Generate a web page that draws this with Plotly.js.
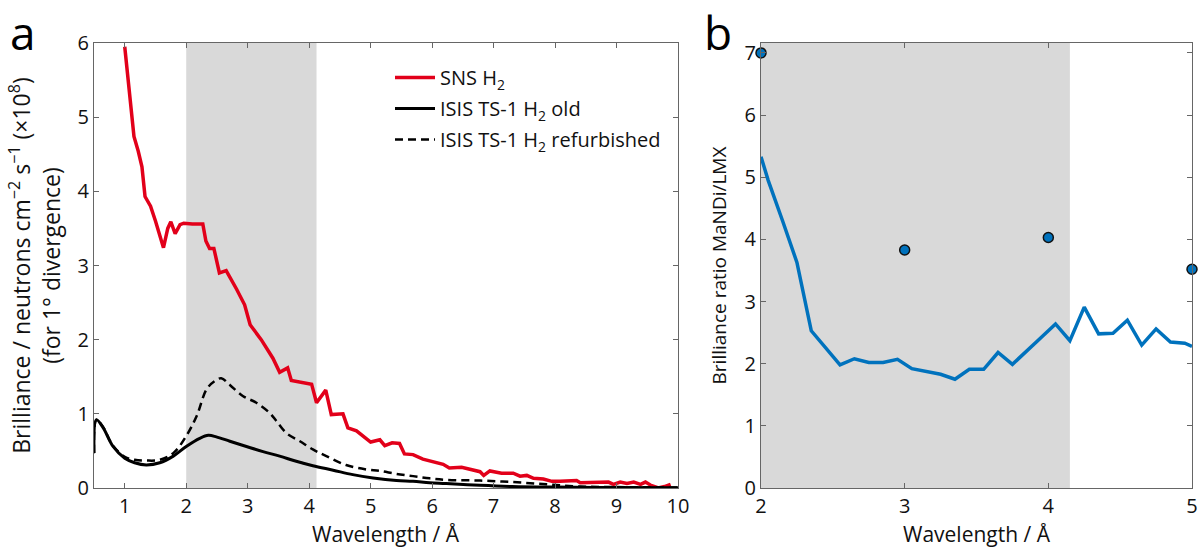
<!DOCTYPE html>
<html>
<head>
<meta charset="utf-8">
<script src="https://cdn.plot.ly/plotly-3.0.1.min.js"></script>
<style>html,body{margin:0;padding:0;background:#fff}#chart{width:1200px;height:548px}</style>
</head>
<body>
<div id="chart"></div>
<script>
// Panel a: SNS H2 brilliance
const snsX = [1.0,1.15,1.22,1.28,1.33,1.42,1.5,1.63,1.7,1.75,1.82,1.9,1.96,2.1,2.27,2.32,2.38,2.45,2.54,2.65,2.82,2.95,3.04,3.22,3.41,3.52,3.65,3.71,4.04,4.12,4.27,4.36,4.55,4.63,4.77,5.0,5.15,5.23,5.35,5.47,5.55,5.69,5.85,6.18,6.28,6.48,6.78,6.84,6.94,7.13,7.32,7.43,7.54,7.65,7.81,7.95,8.08,8.35,8.41,8.68,8.87,8.95,9.06,9.17,9.28,9.39,9.47,9.55,9.68,9.78,9.88];
const snsY = [5.95,4.74,4.54,4.33,3.93,3.8,3.6,3.24,3.5,3.59,3.43,3.55,3.57,3.56,3.56,3.33,3.23,3.23,2.9,2.93,2.68,2.47,2.2,2.0,1.75,1.56,1.62,1.45,1.4,1.15,1.32,0.99,1.0,0.81,0.77,0.62,0.65,0.57,0.61,0.6,0.46,0.45,0.39,0.32,0.27,0.28,0.22,0.17,0.23,0.2,0.2,0.16,0.17,0.13,0.12,0.09,0.09,0.1,0.07,0.08,0.08,0.05,0.08,0.06,0.08,0.05,0.08,0.04,0.0,0.02,0.05];

// Panel a: ISIS TS-1 H2 old
const isisOldX = [0.5,0.54,0.65,0.81,1.0,1.16,1.35,1.57,1.79,2.0,2.22,2.36,2.49,2.71,2.98,3.25,3.52,3.79,4.06,4.39,4.71,5.04,5.42,5.69,5.96,6.23,6.78,7.3,8.0,9.0,10.0];
const isisOldY = [0.47,0.92,0.81,0.56,0.4,0.34,0.31,0.34,0.43,0.56,0.67,0.71,0.69,0.63,0.56,0.49,0.43,0.36,0.3,0.24,0.18,0.135,0.1,0.09,0.07,0.06,0.036,0.02,0.012,0.007,0.004];

// Panel a: ISIS TS-1 H2 refurbished
const isisNewX = [0.5,0.54,0.65,0.8,1.0,1.16,1.35,1.57,1.79,2.0,2.17,2.33,2.46,2.57,2.71,2.92,3.14,3.36,3.47,3.63,3.85,4.06,4.28,4.6,4.93,5.15,5.42,5.69,5.96,6.23,6.78,7.32,7.86,8.41,9.0,10.0];
const isisNewY = [0.47,0.92,0.82,0.58,0.42,0.38,0.37,0.38,0.47,0.7,0.97,1.33,1.44,1.48,1.39,1.24,1.15,1.01,0.9,0.74,0.63,0.52,0.43,0.31,0.25,0.23,0.19,0.16,0.13,0.11,0.1,0.08,0.05,0.02,0.012,0.008];

// Panel b: brilliance ratio MaNDi/LMX
const ratioX = [2.0,2.05,2.15,2.25,2.35,2.45,2.55,2.65,2.75,2.85,2.95,3.05,3.15,3.25,3.35,3.45,3.55,3.65,3.75,3.85,3.95,4.05,4.15,4.25,4.35,4.45,4.55,4.65,4.75,4.85,4.95,5.0];
const ratioY = [5.33,4.95,4.3,3.63,2.53,2.25,1.98,2.08,2.02,2.02,2.07,1.92,1.88,1.83,1.75,1.91,1.91,2.18,1.99,2.2,2.42,2.64,2.37,2.91,2.48,2.49,2.7,2.3,2.56,2.35,2.33,2.28];

// Panel b: point values
const ptX = [2, 3, 4, 5];
const ptY = [7.0, 3.83, 4.03, 3.52];

// Tick labels
const ticksA_x = [1,2,3,4,5,6,7,8,9,10];
const ticksA_y = [0,1,2,3,4,5,6];
const ticksB_x = [2,3,4,5];
const ticksB_y = [0,1,2,3,4,5,6,7];

const FONT = 'Open Sans, Noto Sans, sans-serif';
const axisCol = '#666';
const txt = '#111';

const traces = [
  {x: snsX, y: snsY, mode: 'lines', name: 'SNS H<sub>2</sub>', line: {color: '#e2001a', width: 3.5}, xaxis: 'x', yaxis: 'y', legendgroup: 'a'},
  {x: isisOldX, y: isisOldY, mode: 'lines', name: 'ISIS TS-1 H<sub>2</sub> old', line: {color: '#000', width: 3, shape: 'spline'}, xaxis: 'x', yaxis: 'y', legendgroup: 'b'},
  {x: isisNewX, y: isisNewY, mode: 'lines', name: 'ISIS TS-1 H<sub>2</sub> refurbished', line: {color: '#000', width: 2.5, dash: '8px,5px', shape: 'spline'}, xaxis: 'x', yaxis: 'y', legendgroup: 'c'},
  {x: ratioX, y: ratioY, mode: 'lines', line: {color: '#0072bd', width: 3.5}, xaxis: 'x2', yaxis: 'y2', showlegend: false},
  {x: ptX, y: ptY, mode: 'markers', marker: {color: '#0072bd', size: 10, line: {color: '#111', width: 1.5}}, xaxis: 'x2', yaxis: 'y2', showlegend: false, cliponaxis: false}
];

function ax(extra) {
  return Object.assign({
    showline: true, mirror: 'ticks', linecolor: axisCol, linewidth: 1,
    ticks: 'inside', ticklen: 5, tickcolor: axisCol, tickwidth: 1,
    showgrid: false, zeroline: false, automargin: false,
    tickfont: {family: FONT, size: 20, color: txt}
  }, extra);
}

// plot area: 0..488 px from top (bottom margin 60)
const yDom = [0, 1 - 43/488];
const xTitleY = -(534 - 488) / 488;

const layout = {
  width: 1200, height: 548,
  margin: {l: 0, r: 0, t: 0, b: 60},
  paper_bgcolor: '#fff', plot_bgcolor: 'rgba(0,0,0,0)',
  font: {family: FONT, size: 21, color: txt},
  showlegend: true,
  legend: {x: 390/1200, y: 1 - 58/488, xanchor: 'left', yanchor: 'top', bgcolor: 'rgba(0,0,0,0)', font: {family: FONT, size: 20, color: txt}, tracegroupgap: 2, itemwidth: 40},
  xaxis: ax({domain: [94/1200, 678/1200], range: [0.5, 10], tickvals: ticksA_x, anchor: 'y'}),
  yaxis: ax({domain: yDom, range: [0, 6], tickvals: ticksA_y, anchor: 'x',
    title: {text: 'Brilliance / neutrons cm<sup>−2</sup> s<sup>−1</sup> (×10<sup>8</sup>)<br>(for 1° divergence)', font: {family: FONT, size: 23, color: txt}, standoff: 10}}),
  xaxis2: ax({domain: [761/1200, 1192/1200], range: [2, 5], tickvals: ticksB_x, anchor: 'y2'}),
  yaxis2: ax({domain: yDom, range: [0, 7.16], tickvals: ticksB_y, anchor: 'x2', ticklabelstandoff: 0,
    title: {text: 'Brilliance ratio MaNDi/LMX', font: {family: FONT, size: 19, color: txt}, standoff: 12}}),
  shapes: [
    {type: 'rect', xref: 'x', yref: 'y domain', x0: 2, x1: 4.12, y0: 0, y1: 1, fillcolor: '#d9d9d9', line: {width: 0}, layer: 'below'},
    {type: 'rect', xref: 'x2', yref: 'y2 domain', x0: 2, x1: 4.15, y0: 0, y1: 1, fillcolor: '#d9d9d9', line: {width: 0}, layer: 'below'}
  ],
  annotations: [
    {text: 'a', xref: 'paper', yref: 'paper', x: 9/1200, y: 1, xanchor: 'left', yanchor: 'top', borderpad: 0, showarrow: false, font: {family: FONT, size: 46, color: '#000'}},
    {text: 'b', xref: 'paper', yref: 'paper', x: 703/1200, y: 1, xanchor: 'left', yanchor: 'top', borderpad: 0, showarrow: false, font: {family: FONT, size: 46, color: '#000'}},
    {text: 'Wavelength / Å', xref: 'x domain', yref: 'paper', x: 0.5, y: xTitleY, xanchor: 'center', yanchor: 'middle', borderpad: 0, showarrow: false, font: {family: FONT, size: 21, color: txt}},
    {text: 'Wavelength / Å', xref: 'x2 domain', yref: 'paper', x: 0.5, y: xTitleY, xanchor: 'center', yanchor: 'middle', borderpad: 0, showarrow: false, font: {family: FONT, size: 21, color: txt}}
  ]
};

Plotly.newPlot('chart', traces, layout, {displayModeBar: false, staticPlot: true});
</script>
</body>
</html>
